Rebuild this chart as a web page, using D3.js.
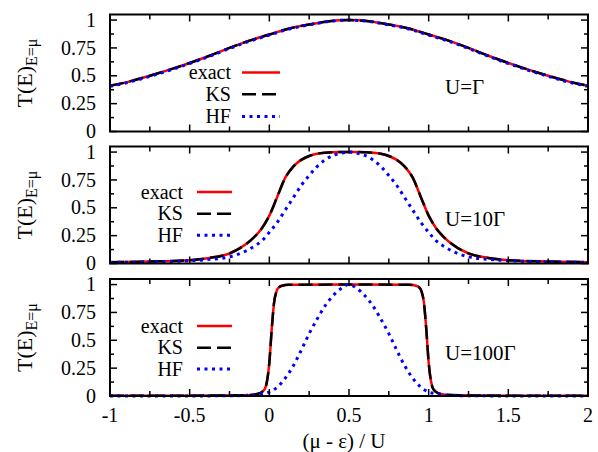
<!DOCTYPE html>
<html>
<head>
<meta charset="utf-8">
<script src="https://cdn.jsdelivr.net/npm/d3@7"></script>
<style>
  body { margin: 0; background: #fff; }
</style>
</head>
<body>
<svg width="598" height="452"></svg>
<script>
(function () {

// ---- data ----
var topX    = [-1, -0.875, -0.75, -0.625, -0.5, -0.375, -0.25, -0.125, 0, 0.125, 0.25, 0.375, 0.5,
               0.625, 0.75, 0.875, 1, 1.125, 1.25, 1.375, 1.5, 1.625, 1.75, 1.875, 2];
var topExact = [0.41, 0.45, 0.50, 0.555, 0.615, 0.68, 0.75, 0.815, 0.87, 0.925, 0.96, 0.99, 1.0,
               0.99, 0.96, 0.925, 0.87, 0.815, 0.75, 0.68, 0.615, 0.555, 0.50, 0.45, 0.41];
var topKS    = topExact.slice();
var topHF    = [0.405, 0.445, 0.495, 0.55, 0.61, 0.675, 0.745, 0.81, 0.865, 0.92, 0.957, 0.988, 1.0,
               0.988, 0.957, 0.92, 0.865, 0.81, 0.745, 0.675, 0.61, 0.55, 0.495, 0.445, 0.405];

var midX     = [-1, -0.75, -0.5, -0.375, -0.25, -0.15, -0.1, -0.05, 0, 0.05, 0.1, 0.15, 0.2, 0.25, 0.3, 0.35, 0.4, 0.45, 0.5,
                0.55, 0.6, 0.65, 0.7, 0.75, 0.8, 0.85, 0.9, 0.95, 1, 1.05, 1.1, 1.15, 1.25, 1.375, 1.5, 1.75, 2];
var midExact = [0.012, 0.018, 0.03, 0.05, 0.09, 0.17, 0.23, 0.31, 0.43, 0.6, 0.77, 0.87, 0.93, 0.965, 0.985, 0.994, 0.998, 1.0, 1.0,
                1.0, 0.998, 0.994, 0.985, 0.965, 0.93, 0.87, 0.77, 0.6, 0.43, 0.31, 0.23, 0.17, 0.09, 0.05, 0.03, 0.018, 0.012];
var midKS    = midExact.slice();
var midHF    = [0.01, 0.014, 0.025, 0.037, 0.06, 0.11, 0.15, 0.2, 0.28, 0.37, 0.48, 0.59, 0.7, 0.79, 0.87, 0.93, 0.97, 0.99, 1.0,
                0.99, 0.97, 0.93, 0.87, 0.79, 0.7, 0.59, 0.48, 0.37, 0.28, 0.2, 0.15, 0.11, 0.06, 0.037, 0.025, 0.014, 0.01];

var botX     = [-1, -0.5, -0.2, -0.1, -0.06, -0.03, -0.015, 0, 0.015, 0.03, 0.045, 0.06, 0.08, 0.12, 0.5,
                0.88, 0.92, 0.94, 0.955, 0.97, 0.985, 1, 1.015, 1.03, 1.06, 1.1, 1.2, 1.5, 2];
var botExact = [0.002, 0.003, 0.006, 0.012, 0.025, 0.06, 0.13, 0.3, 0.6, 0.84, 0.94, 0.975, 0.99, 0.998, 1.0,
                0.998, 0.99, 0.975, 0.94, 0.84, 0.6, 0.3, 0.13, 0.06, 0.025, 0.012, 0.006, 0.003, 0.002];
var botKS    = botExact.slice();
var botHFX   = [-1, -0.5, -0.2, -0.1, -0.05, 0, 0.05, 0.1, 0.15, 0.2, 0.25, 0.3, 0.35, 0.4, 0.45, 0.5,
                0.55, 0.6, 0.65, 0.7, 0.75, 0.8, 0.85, 0.9, 0.95, 1, 1.05, 1.1, 1.2, 1.5, 2];
var botHF    = [0, 0.0005, 0.003, 0.01, 0.02, 0.035, 0.08, 0.16, 0.27, 0.41, 0.56, 0.69, 0.81, 0.9, 0.965, 1.0,
                0.965, 0.9, 0.81, 0.69, 0.56, 0.41, 0.27, 0.16, 0.08, 0.035, 0.02, 0.01, 0.003, 0.0005, 0];

var panelLabels = ["U=\u0393", "U=10\u0393", "U=100\u0393"];
var legendNames = ["exact", "KS", "HF"];
var xTickLabels = ["-1", "-0.5", "0", "0.5", "1", "1.5", "2"];
var yTickLabels = ["0", "0.25", "0.5", "0.75", "1"];

// ---- layout ----
var svg = d3.select('svg');
var left = 110, right = 588, ph = 117;
var panelTops = [14.5, 146.5, 279];
var legendPos = [
  {tx: 231, lx1: 242, lx2: 280, rows: [58, 79.8, 102]},
  {tx: 183, lx1: 197, lx2: 232, rows: [45.5, 67.2, 88.8]},
  {tx: 183, lx1: 197, lx2: 232, rows: [47, 68.7, 90]}
];
var labelBase = [79.5, 79.2, 81];

var styles = [
  {color: "#ff0000", dash: null, width: 2.5},
  {color: "#000000", dash: "14,6", width: 2.5},
  {color: "#0000ff", dash: "3,4.5", width: 3}
];

var txt = function (sel, size) {
  return sel.append('text')
    .attr('font-family', 'Liberation Serif, DejaVu Serif, serif')
    .attr('font-size', size)
    .attr('fill', '#000');
};

var x = d3.scaleLinear().domain([-1, 2]).range([left, right]);

var panels = [
  {series: [[topX, topExact], [topX, topKS], [topX, topHF]]},
  {series: [[midX, midExact], [midX, midKS], [midX, midHF]]},
  {series: [[botX, botExact], [botX, botKS], [botHFX, botHF]]}
];

panels.forEach(function (p, i) {
  var top = panelTops[i];
  var y = d3.scaleLinear().domain([0, 1.05]).range([top + ph, top]);
  var g = svg.append('g');

  var line = d3.line()
    .x(function (d) { return x(d[0]); })
    .y(function (d) { return y(d[1]); })
    .curve(d3.curveMonotoneX);

  // curves
  p.series.forEach(function (s, k) {
    var pts = s[0].map(function (v, j) { return [v, s[1][j]]; });
    g.append('path')
      .attr('d', line(pts))
      .attr('fill', 'none')
      .attr('stroke', styles[k].color)
      .attr('stroke-width', styles[k].width)
      .attr('stroke-dasharray', styles[k].dash);
  });

  // ticks on all four sides
  var xt = d3.range(-1, 2.001, 0.25);
  xt.forEach(function (t) {
    var len = (Math.abs(t * 2 - Math.round(t * 2)) < 1e-6) ? 7 : 5;
    g.append('line').attr('x1', x(t)).attr('x2', x(t)).attr('y1', top + ph).attr('y2', top + ph - len)
      .attr('stroke', '#000').attr('stroke-width', 1.5);
    g.append('line').attr('x1', x(t)).attr('x2', x(t)).attr('y1', top).attr('y2', top + len)
      .attr('stroke', '#000').attr('stroke-width', 1.5);
  });
  var yt = d3.range(0, 1.001, 0.125);
  yt.forEach(function (t) {
    var len = (Math.abs(t * 4 - Math.round(t * 4)) < 1e-6) ? 7 : 4;
    g.append('line').attr('x1', left).attr('x2', left + len).attr('y1', y(t)).attr('y2', y(t))
      .attr('stroke', '#000').attr('stroke-width', 1.5);
    g.append('line').attr('x1', right).attr('x2', right - len).attr('y1', y(t)).attr('y2', y(t))
      .attr('stroke', '#000').attr('stroke-width', 1.5);
  });

  // y tick labels
  yTickLabels.forEach(function (lab) {
    txt(g, 20)
      .attr('x', 96).attr('y', y(+lab)).attr('dy', '0.33em')
      .attr('text-anchor', 'end')
      .text(lab);
  });

  // frame
  g.append('rect')
    .attr('x', left).attr('y', top).attr('width', right - left).attr('height', ph)
    .attr('fill', 'none').attr('stroke', '#000').attr('stroke-width', 2);

  // y axis title
  var yl = txt(g, 22)
    .attr('transform', 'translate(32,' + (top + ph / 2) + ') rotate(-90)')
    .attr('text-anchor', 'middle');
  yl.append('tspan').text('T(E)');
  yl.append('tspan').attr('dy', 5).attr('font-size', 16).text('E=\u03bc');

  // legend
  var lp = legendPos[i];
  legendNames.forEach(function (name, k) {
    var ry = top + lp.rows[k];
    txt(g, 20).attr('x', lp.tx).attr('y', ry).attr('dy', '0.33em')
      .attr('text-anchor', 'end').text(name);
    g.append('line').attr('x1', lp.lx1).attr('x2', lp.lx2).attr('y1', ry).attr('y2', ry)
      .attr('stroke', styles[k].color).attr('stroke-width', styles[k].width)
      .attr('stroke-dasharray', styles[k].dash);
  });

  // panel label
  txt(g, 21).attr('x', 445).attr('y', top + labelBase[i]).text(panelLabels[i]);

  // x tick labels only on bottom panel
  if (i === panels.length - 1) {
    xTickLabels.forEach(function (lab) {
      txt(g, 20).attr('x', x(+lab)).attr('y', 421.5)
        .attr('text-anchor', 'middle').text(lab);
    });
  }
});

// x axis title
txt(svg, 21).attr('x', 344).attr('y', 448)
  .attr('text-anchor', 'middle')
  .text('(\u03bc - \u03b5) / U');

})();
</script>
</body>
</html>
